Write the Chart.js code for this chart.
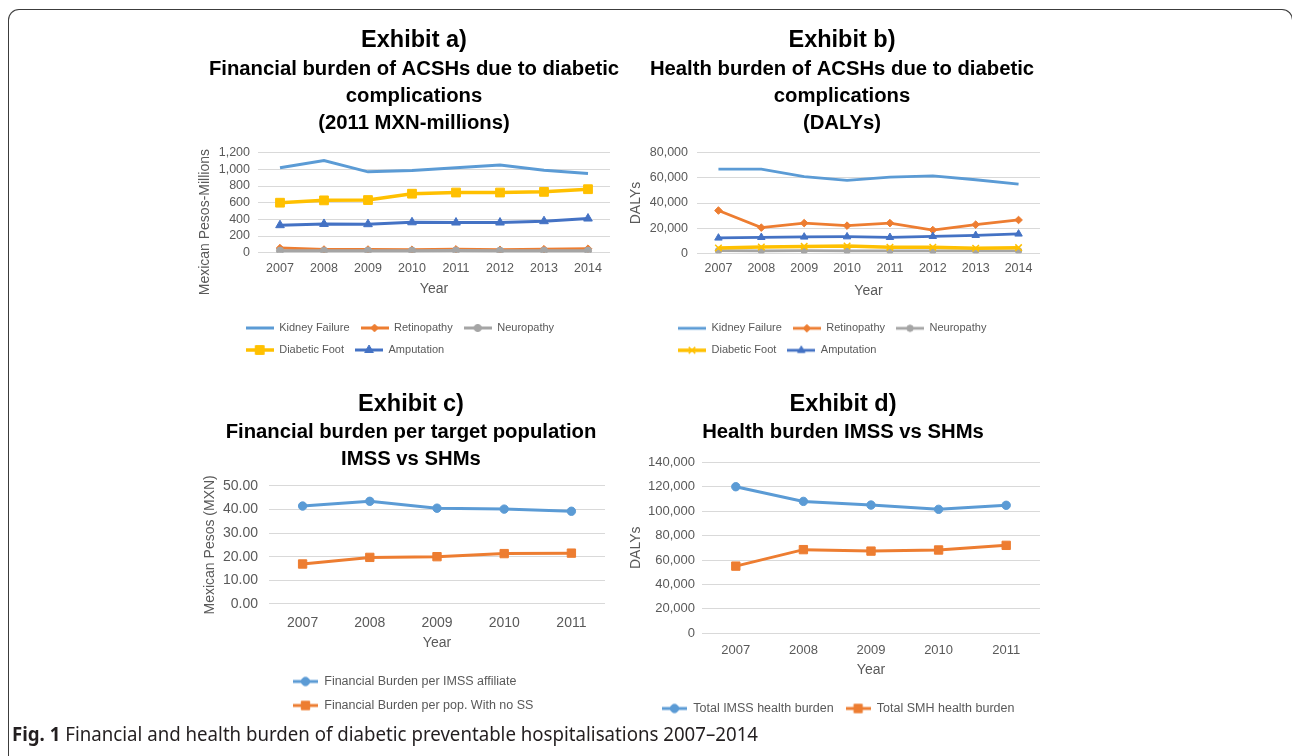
<!DOCTYPE html>
<html>
<head>
<meta charset="utf-8">
<title>Fig. 1</title>
<script src="https://cdn.jsdelivr.net/npm/chart.js@4.4.1/dist/chart.umd.min.js"></script>
<style>
  html, body { margin:0; padding:0; background:#ffffff; }
  body { width:1292px; height:756px; position:relative; overflow:hidden; }
  #frame { position:absolute; left:8px; top:9px; width:1285px; height:800px; box-sizing:border-box;
           border:1.6px solid #3c3c3c; border-bottom:none; border-radius:11px 11px 0 0; }
  .panel { position:absolute; }
  .panel canvas { display:block; }
  #cap { position:absolute; left:12px; top:725px; font-family:"Noto Sans","Open Sans",Lato,sans-serif;
         font-size:19px; line-height:19px; color:#231f20; white-space:nowrap; transform-origin:0 50%; }
  #cap b { font-weight:700; }
</style>
</head>
<body>
<div id="frame"></div>
<div class="panel" id="pa"><canvas id="ca"></canvas></div>
<div class="panel" id="pb"><canvas id="cb"></canvas></div>
<div class="panel" id="pc"><canvas id="cc"></canvas></div>
<div class="panel" id="pd"><canvas id="cd"></canvas></div>
<div id="cap"><b>Fig. 1</b> Financial and health burden of diabetic preventable hospitalisations 2007–2014</div>
<script>
// ---------------- data ----------------
const yearsLong  = ['2007', '2008', '2009', '2010', '2011', '2012', '2013', '2014'];
const yearsShort = ['2007', '2008', '2009', '2010', '2011'];

// Exhibit a) financial burden (2011 MXN-millions)
const kidneyCost = [1020, 1105, 970, 985, 1018, 1052, 990, 950];
const retinoCost = [55, 38, 38, 36, 40, 35, 42, 48];
const neuroCost  = [24, 23, 24, 24, 25, 24, 24, 24];
const footCost   = [600, 628, 632, 708, 722, 722, 730, 762];
const amputCost  = [330, 345, 342, 365, 362, 362, 378, 410];

// Exhibit b) health burden (DALYs)
const kidneyDaly = [67000, 67000, 61000, 58000, 60500, 61500, 58500, 55000];
const retinoDaly = [34000, 20400, 24000, 22000, 24000, 18500, 22800, 26500];
const neuroDaly  = [2100, 2000, 2100, 2000, 2000, 1900, 2000, 2000];
const footDaly   = [4200, 5000, 5500, 5800, 4800, 4800, 4000, 4500];
const amputDaly  = [12200, 12700, 13000, 13200, 12700, 13500, 14300, 15400];

// Exhibit c) financial burden per target population (MXN)
const imssCost = [41.4, 43.4, 40.5, 40.1, 39.2];
const noSSCost = [16.9, 19.7, 20.0, 21.3, 21.5];

// Exhibit d) health burden IMSS vs SHMs (DALYs)
const imssDaly = [120000, 108000, 105000, 101500, 104800];
const smhDaly  = [55000, 68500, 67300, 68200, 72000];

// tick settings
const ticksA = { min: 0, max: 1200, step: 200 };
const ticksB = { min: 0, max: 80000, step: 20000 };
const ticksC = { min: 0, max: 50, step: 10 };
const ticksD = { min: 0, max: 140000, step: 20000 };

// ---------------- styles ----------------
const BLUE = '#5B9BD5', ORANGE = '#ED7D31', GRAY = '#A5A5A5', GOLD = '#FFC000', NAVY = '#4472C4';
const TXT = '#595959';
const TITLE_SIZE = 23.5, SUB_SIZE = 20.3, SUB_LH = 27;
Chart.defaults.font.family = 'Arial, "Liberation Sans", Helvetica, sans-serif';
Chart.defaults.color = TXT;

const commaFmt = v => Number(v).toLocaleString('en-US');
const twoDec = v => Number(v).toFixed(2);

function drawMark(g, sp, x, y) {
  const r = sp.r;
  if (!sp.style || r <= 0) return;
  g.beginPath();
  switch (sp.style) {
    case 'circle': g.arc(x, y, r, 0, Math.PI * 2); break;
    case 'rect': { const s = r * Math.SQRT1_2; g.rect(x - s, y - s, 2 * s, 2 * s); break; }
    case 'rectRot': g.moveTo(x - r, y); g.lineTo(x, y - r); g.lineTo(x + r, y); g.lineTo(x, y + r); g.closePath(); break;
    case 'triangle':
      for (let k = 0; k < 3; k++) {
        const a = k * 2 * Math.PI / 3;
        const px = x + Math.sin(a) * r, py = y - Math.cos(a) * r;
        if (k) g.lineTo(px, py); else g.moveTo(px, py);
      }
      g.closePath(); break;
    case 'crossRot': {
      const s = r * Math.SQRT1_2;
      g.moveTo(x - s, y - s); g.lineTo(x + s, y + s);
      g.moveTo(x + s, y - s); g.lineTo(x - s, y + s);
      g.lineWidth = 1.5; g.stroke(); return;
    }
  }
  g.fill(); g.lineWidth = 1; g.stroke();
}

function makeIcon(sp, w) {
  const c = document.createElement('canvas');
  c.width = w; c.height = 16;
  const g = c.getContext('2d');
  g.strokeStyle = sp.color; g.fillStyle = sp.color; g.lineWidth = sp.lw;
  g.beginPath(); g.moveTo(0, 8); g.lineTo(w, 8); g.stroke();
  drawMark(g, sp, w / 2, 8);
  return c;
}

function makeDataset(label, data, sp, order) {
  return {
    label, data, order,
    borderColor: sp.color, backgroundColor: sp.color, borderWidth: sp.lw,
    pointStyle: sp.style || 'circle', pointRadius: sp.style ? sp.r : 0, pointHoverRadius: sp.style ? sp.r : 0,
    pointBackgroundColor: sp.color, pointBorderColor: sp.color,
    pointBorderWidth: sp.style === 'crossRot' ? 1.5 : 1,
    tension: 0, fill: false
  };
}

// moves the (horizontal) legend to a chosen spot, left aligned, wrapping at a chosen width
const legendPlace = {
  id: 'legendPlace',
  afterLayout(chart, args, o) {
    const lg = chart.legend;
    if (!lg || o.x === undefined) return;
    lg.left = o.x - o.pad;
    lg.right = o.right;
    lg.width = lg.right - lg.left;
    lg.top = o.y - o.pad - o.fs / 2;
    lg.height = 80;
    lg.bottom = lg.top + lg.height;
  }
};

function buildPanel(panelId, canvasId, g, labels, series, yCfg) {
  const L = Math.round(g.yTitleX - 12.4);
  const W = Math.round(2 * (g.titleX - L));
  const T = g.top, H = g.bottom - g.top;
  const el = document.getElementById(panelId);
  el.style.left = L + 'px'; el.style.top = T + 'px';
  el.style.width = W + 'px'; el.style.height = H + 'px';

  const titleLH = TITLE_SIZE * 1.2;
  const nSub = g.subtitle.length;
  const tpt = g.titleY - T - titleLH / 2;
  const subTop = g.sub1Y - SUB_LH / 2;
  const tpb = subTop - (g.titleY + titleLH / 2);
  const sb = g.chartTop - (subTop + SUB_LH * nSub);
  const tp = g.xLabelY - g.chartBottom - g.tickSize * 0.6;
  const xH = g.yearY - g.chartBottom + 8.4 + 4;
  const padB = g.bottom - 1 - xH - g.chartBottom;
  const yW = g.chartLeft - L;
  const rW = L + W - g.chartRight;

  const n = series.length;
  const datasets = series.map((s, i) => makeDataset(s.label, s.data, s.sp, n - i));
  const icons = series.map(s => makeIcon(s.sp, g.boxW));

  return new Chart(document.getElementById(canvasId), {
    type: 'line',
    data: { labels, datasets },
    plugins: [legendPlace],
    options: {
      responsive: true, maintainAspectRatio: false, animation: false, events: [],
      layout: { padding: { left: 0, right: 0, top: 0, bottom: padB } },
      plugins: {
        title: { display: true, text: g.title, color: '#000000',
                 font: { size: TITLE_SIZE, weight: 'bold', lineHeight: 1.2 }, padding: { top: tpt, bottom: tpb } },
        subtitle: { display: true, text: g.subtitle, color: '#000000',
                    font: { size: SUB_SIZE, weight: 'bold', lineHeight: SUB_LH / SUB_SIZE }, padding: { top: 0, bottom: sb } },
        tooltip: { enabled: false },
        legend: {
          position: 'bottom', align: 'start', maxHeight: 1,
          labels: {
            usePointStyle: true, pointStyleWidth: g.boxW, boxHeight: g.legendSize,
            padding: g.legendPad, color: TXT, font: { size: g.legendSize },
            sort: (a, b) => a.datasetIndex - b.datasetIndex,
            generateLabels: (chart) => {
              const items = Chart.defaults.plugins.legend.labels.generateLabels(chart);
              items.forEach(it => { it.pointStyle = icons[it.datasetIndex]; });
              return items;
            }
          }
        },
        legendPlace: { x: g.legendX - L, y: g.legendY - T, right: g.legendRight - L, pad: g.legendPad, fs: g.legendSize }
      },
      scales: {
        x: {
          offset: true, grid: { display: false, drawTicks: false }, border: { display: false },
          ticks: { color: TXT, font: { size: g.tickSize }, padding: tp, maxRotation: 0, autoSkip: false },
          title: { display: true, text: 'Year', color: TXT, font: { size: 14 }, padding: { top: 0, bottom: 4 } },
          afterFit: s => { s.height = xH; }
        },
        y: {
          min: yCfg.min, max: yCfg.max, border: { display: false },
          grid: { color: '#D9D9D9', lineWidth: 1, drawTicks: false },
          ticks: { stepSize: yCfg.step, autoSkip: false, padding: g.chartLeft - g.tickRight, color: TXT,
                   font: { size: g.tickSize }, callback: yCfg.fmt },
          title: { display: true, text: yCfg.title, color: TXT, font: { size: 14 }, padding: { top: 4, bottom: 4 } },
          afterFit: s => { s.width = yW; }
        },
        yR: {
          type: 'linear', position: 'right', display: true,
          grid: { display: false, drawTicks: false }, border: { display: false }, ticks: { display: false },
          afterFit: s => { s.width = rW; }
        }
      }
    }
  });
}

// ---------------- panels ----------------
const geomA = { title: 'Exhibit a)', subtitle: ['Financial burden of ACSHs due to diabetic', 'complications', '(2011 MXN-millions)'],
  top: 20, bottom: 368, titleX: 414, titleY: 40.5, sub1Y: 69, chartTop: 152.7, chartBottom: 252.7,
  xLabelY: 268.3, yearY: 289, yTitleX: 205, chartLeft: 258, chartRight: 610, tickRight: 250, tickSize: 12.5,
  legendX: 245.7, legendY: 328, legendRight: 620, legendPad: 11, legendSize: 11, boxW: 28 };
const geomB = { title: 'Exhibit b)', subtitle: ['Health burden of ACSHs due to diabetic', 'complications', '(DALYs)'],
  top: 20, bottom: 368, titleX: 842, titleY: 40.5, sub1Y: 69, chartTop: 152.7, chartBottom: 253.3,
  xLabelY: 269, yearY: 290.7, yTitleX: 636, chartLeft: 697, chartRight: 1040, tickRight: 688, tickSize: 12.5,
  legendX: 678, legendY: 328.3, legendRight: 1030, legendPad: 11, legendSize: 11, boxW: 28 };
const geomC = { title: 'Exhibit c)', subtitle: ['Financial burden per target population', 'IMSS vs SHMs'],
  top: 384, bottom: 720, titleX: 411, titleY: 405, sub1Y: 432, chartTop: 485.7, chartBottom: 604,
  xLabelY: 622.7, yearY: 643, yTitleX: 210.7, chartLeft: 269, chartRight: 605, tickRight: 258, tickSize: 14,
  legendX: 293, legendY: 681.5, legendRight: 560, legendPad: 11.5, legendSize: 12.5, boxW: 25 };
const geomD = { title: 'Exhibit d)', subtitle: ['Health burden IMSS vs SHMs'],
  top: 384, bottom: 724, titleX: 843, titleY: 405, sub1Y: 432, chartTop: 462.3, chartBottom: 633.3,
  xLabelY: 650, yearY: 670, yTitleX: 636, chartLeft: 702, chartRight: 1040, tickRight: 695, tickSize: 13,
  legendX: 662, legendY: 708.5, legendRight: 1060, legendPad: 12, legendSize: 12.5, boxW: 25 };

buildPanel('pa', 'ca', geomA, yearsLong, [
  { label: 'Kidney Failure', data: kidneyCost, sp: { color: BLUE,   style: null,       r: 0,   lw: 3 } },
  { label: 'Retinopathy',    data: retinoCost, sp: { color: ORANGE, style: 'rectRot',  r: 3.8, lw: 3 } },
  { label: 'Neuropathy',     data: neuroCost,  sp: { color: GRAY,   style: 'circle',   r: 3.6, lw: 3 } },
  { label: 'Diabetic Foot',  data: footCost,   sp: { color: GOLD,   style: 'rect',     r: 6.2, lw: 3.5 } },
  { label: 'Amputation',     data: amputCost,  sp: { color: NAVY,   style: 'triangle', r: 5.0, lw: 3 } }
], { ...ticksA, fmt: commaFmt, title: 'Mexican Pesos-Millions' + ' '.repeat(10) });

buildPanel('pb', 'cb', geomB, yearsLong, [
  { label: 'Kidney Failure', data: kidneyDaly, sp: { color: BLUE,   style: null,       r: 0,   lw: 2.8 } },
  { label: 'Retinopathy',    data: retinoDaly, sp: { color: ORANGE, style: 'rectRot',  r: 3.8, lw: 2.8 } },
  { label: 'Neuropathy',     data: neuroDaly,  sp: { color: GRAY,   style: 'circle',   r: 3.2, lw: 2.8 } },
  { label: 'Diabetic Foot',  data: footDaly,   sp: { color: GOLD,   style: 'crossRot', r: 4.6, lw: 3.5 } },
  { label: 'Amputation',     data: amputDaly,  sp: { color: NAVY,   style: 'triangle', r: 4.3, lw: 2.8 } }
], { ...ticksB, fmt: commaFmt, title: 'DALYs' });

buildPanel('pc', 'cc', geomC, yearsShort, [
  { label: 'Financial Burden per IMSS affiliate',  data: imssCost, sp: { color: BLUE,   style: 'circle', r: 4.2, lw: 3 } },
  { label: 'Financial Burden per pop. With no SS', data: noSSCost, sp: { color: ORANGE, style: 'rect',   r: 5.9, lw: 3 } }
], { ...ticksC, fmt: twoDec, title: 'Mexican Pesos (MXN)' });

buildPanel('pd', 'cd', geomD, yearsShort, [
  { label: 'Total IMSS health burden', data: imssDaly, sp: { color: BLUE,   style: 'circle', r: 4.2, lw: 3 } },
  { label: 'Total SMH health burden',  data: smhDaly,  sp: { color: ORANGE, style: 'rect',   r: 5.9, lw: 3 } }
], { ...ticksD, fmt: commaFmt, title: 'DALYs' });

// caption: fit its width to the reference span
function fitCaption() {
  const cap = document.getElementById('cap');
  cap.style.transform = 'none';
  const w = cap.getBoundingClientRect().width;
  if (w > 0) cap.style.transform = 'scaleX(' + ((758 - 12) / w) + ')';
}
fitCaption();
if (document.fonts && document.fonts.ready) document.fonts.ready.then(fitCaption);
</script>
</body>
</html>
